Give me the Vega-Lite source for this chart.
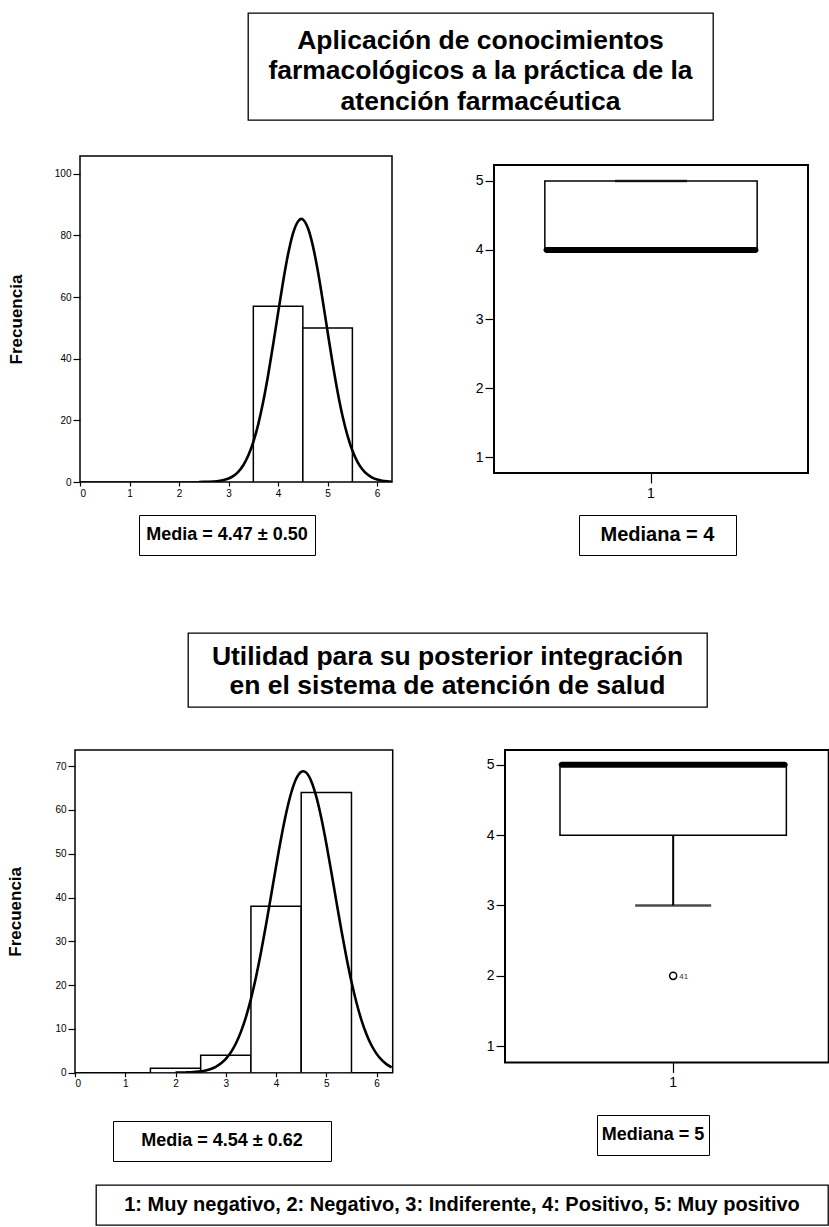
{
  "$schema": "https://vega.github.io/schema/vega-lite/v6.json",
  "padding": 0,
  "background": "white",
  "spacing": 0,
  "config": {
    "view": {"stroke": null},
    "font": "Liberation Sans",
    "concat": {"spacing": 0},
    "point": {"size": 0, "strokeWidth": 0, "opacity": 0},
    "axis": {"domain": false, "grid": false, "labelColor": "black", "tickColor": "black", "titleColor": "black", "labelFont": "Liberation Sans", "titleFont": "Liberation Sans", "tickWidth": 1.2}
  },
  "datasets": {
    "bins1": [
      {"x": -0.5, "x2v": 0.5, "y": 0}, {"x": 0.5, "x2v": 1.5, "y": 0}, {"x": 1.5, "x2v": 2.5, "y": 0},
      {"x": 3.5, "x2v": 4.5, "y": 57}, {"x": 4.5, "x2v": 5.5, "y": 50}
    ],
    "curve1": [
      {"x": 2.4, "y": 0.02}, {"x": 2.5, "y": 0.04}, {"x": 2.6, "y": 0.08}, {"x": 2.7, "y": 0.16}, {"x": 2.8, "y": 0.32},
      {"x": 2.9, "y": 0.62}, {"x": 3.0, "y": 1.14}, {"x": 3.1, "y": 2.0}, {"x": 3.2, "y": 3.39}, {"x": 3.3, "y": 5.52},
      {"x": 3.4, "y": 8.65}, {"x": 3.5, "y": 13.0}, {"x": 3.6, "y": 18.8}, {"x": 3.7, "y": 26.1}, {"x": 3.8, "y": 34.8},
      {"x": 3.9, "y": 44.6}, {"x": 4.0, "y": 54.9}, {"x": 4.1, "y": 64.9}, {"x": 4.2, "y": 73.8}, {"x": 4.3, "y": 80.6},
      {"x": 4.4, "y": 84.5}, {"x": 4.47, "y": 85.4}, {"x": 4.5, "y": 85.2}, {"x": 4.6, "y": 82.5}, {"x": 4.7, "y": 76.8},
      {"x": 4.8, "y": 68.7}, {"x": 4.9, "y": 59.0}, {"x": 5.0, "y": 48.7}, {"x": 5.1, "y": 38.6}, {"x": 5.2, "y": 29.4},
      {"x": 5.3, "y": 21.5}, {"x": 5.4, "y": 15.1}, {"x": 5.5, "y": 10.2}, {"x": 5.6, "y": 6.64}, {"x": 5.7, "y": 4.14},
      {"x": 5.8, "y": 2.48}, {"x": 5.9, "y": 1.43}, {"x": 6.0, "y": 0.79}, {"x": 6.1, "y": 0.42}, {"x": 6.2, "y": 0.21},
      {"x": 6.3, "y": 0.1}
    ],
    "bins2": [
      {"x": -0.5, "x2v": 0.5, "y": 0}, {"x": 0.5, "x2v": 1.5, "y": 0},
      {"x": 1.5, "x2v": 2.5, "y": 1}, {"x": 2.5, "x2v": 3.5, "y": 4}, {"x": 3.5, "x2v": 4.5, "y": 38}, {"x": 4.5, "x2v": 5.5, "y": 64}
    ],
    "curve2": [
      {"x": 2.0, "y": 0.02}, {"x": 2.1, "y": 0.03}, {"x": 2.2, "y": 0.06}, {"x": 2.3, "y": 0.1}, {"x": 2.4, "y": 0.18},
      {"x": 2.5, "y": 0.31}, {"x": 2.6, "y": 0.52}, {"x": 2.7, "y": 0.84}, {"x": 2.8, "y": 1.34}, {"x": 2.9, "y": 2.08},
      {"x": 3.0, "y": 3.15}, {"x": 3.1, "y": 4.64}, {"x": 3.2, "y": 6.66}, {"x": 3.3, "y": 9.32}, {"x": 3.4, "y": 12.7},
      {"x": 3.5, "y": 16.86}, {"x": 3.6, "y": 21.82}, {"x": 3.7, "y": 27.49}, {"x": 3.8, "y": 33.77}, {"x": 3.9, "y": 40.41},
      {"x": 4.0, "y": 47.12}, {"x": 4.1, "y": 53.53}, {"x": 4.2, "y": 59.24}, {"x": 4.3, "y": 63.88}, {"x": 4.4, "y": 67.12},
      {"x": 4.5, "y": 68.71}, {"x": 4.54, "y": 68.85}, {"x": 4.6, "y": 68.53}, {"x": 4.7, "y": 66.59}, {"x": 4.8, "y": 63.05},
      {"x": 4.9, "y": 58.16}, {"x": 5.0, "y": 52.28}, {"x": 5.1, "y": 45.79}, {"x": 5.2, "y": 39.07}, {"x": 5.3, "y": 32.48},
      {"x": 5.4, "y": 26.31}, {"x": 5.5, "y": 20.76}, {"x": 5.6, "y": 15.97}, {"x": 5.7, "y": 11.96}, {"x": 5.8, "y": 8.73},
      {"x": 5.9, "y": 6.21}, {"x": 6.0, "y": 4.3}, {"x": 6.1, "y": 2.91}, {"x": 6.2, "y": 1.91}, {"x": 6.3, "y": 1.23}
    ],
    "box1": [{"g": "1", "q1": 4, "q3": 5, "med": 4, "lo": 4, "hi": 5}],
    "box2": [{"g": "1", "q1": 4, "q3": 5, "med": 5, "lo": 3, "hi": 5}],
    "out2": [{"g": "1", "v": 2, "id": "41"}],
    "blank": [{}]
  },
  "vconcat": [
    {"width": 1, "height": 12, "data": {"name": "blank"}, "mark": {"type": "point"}, "encoding": {}},
    {
      "hconcat": [
        {"width": 247, "height": 107, "data": {"name": "blank"}, "mark": {"type": "point"}, "encoding": {}},
        {
          "width": 465, "height": 107,
          "view": {"stroke": "black", "strokeWidth": 1.3},
          "data": {"values": [{"t": "Aplicación de conocimientos\nfarmacológicos a la práctica de la\natención farmacéutica"}]},
          "mark": {"type": "text", "fontSize": 26.5, "fontWeight": "bold", "lineBreak": "\n", "lineHeight": 30.5, "align": "center", "baseline": "middle", "dy": -26, "color": "black"},
          "encoding": {"text": {"field": "t"}}
        }
      ]
    },
    {"width": 1, "height": 34, "data": {"name": "blank"}, "mark": {"type": "point"}, "encoding": {}},
    {
      "hconcat": [
        {"width": 6, "height": 1, "data": {"name": "blank"}, "mark": {"type": "point"}, "encoding": {}},
        {
          "width": 312, "height": 326,
          "view": {"stroke": "black", "strokeWidth": 1.5},
          "encoding": {
            "x": {"field": "x", "type": "quantitative", "title": null, "scale": {"domain": [0, 6.3], "nice": false, "zero": false},
                  "axis": {"values": [0, 1, 2, 3, 4, 5, 6], "labelFontSize": 10, "tickSize": 4, "labelPadding": 2}},
            "y": {"field": "y", "type": "quantitative", "title": "Frecuencia", "scale": {"domain": [0, 105.8], "nice": false},
                  "axis": {"values": [0, 20, 40, 60, 80, 100], "labelFontSize": 10, "tickSize": 7, "labelPadding": 2, "titleFontSize": 17, "titleFontWeight": "bold", "titlePadding": 29}}
          },
          "layer": [
            {"data": {"name": "bins1"}, "mark": {"type": "bar", "fill": "white", "stroke": "black", "strokeWidth": 1.5, "clip": true}, "encoding": {"x2": {"field": "x2v"}, "y2": {"datum": 0}}},
            {"data": {"name": "curve1"}, "mark": {"type": "line", "color": "black", "strokeWidth": 2.6, "interpolate": "monotone", "clip": true}}
          ]
        },
        {"width": 81, "height": 1, "data": {"name": "blank"}, "mark": {"type": "point"}, "encoding": {}},
        {
          "spacing": 0,
          "vconcat": [
            {"width": 1, "height": 8, "data": {"name": "blank"}, "mark": {"type": "point"}, "encoding": {}},
            {
              "width": 314, "height": 308,
              "view": {"stroke": "black", "strokeWidth": 2},
              "data": {"name": "box1"},
              "encoding": {
                "x": {"field": "g", "type": "nominal", "title": null, "scale": {"paddingInner": 0, "paddingOuter": 0.2395},
                      "axis": {"labelAngle": 0, "labelFontSize": 14, "tickSize": 10, "labelPadding": 3}}
              },
              "layer": [
                {"mark": {"type": "bar", "fill": "white", "stroke": "black", "strokeWidth": 1.5},
                 "encoding": {"y": {"field": "q1", "type": "quantitative", "title": null, "scale": {"domain": [0.77, 5.23], "nice": false, "zero": false},
                                     "axis": {"values": [1, 2, 3, 4, 5], "format": "d", "labelFontSize": 14, "tickSize": 9, "labelPadding": 2}},
                              "y2": {"field": "q3"}}},
                {"mark": {"type": "tick", "color": "black", "size": 72, "thickness": 2.5}, "encoding": {"y": {"field": "hi", "type": "quantitative"}}},
                {"mark": {"type": "tick", "color": "black", "size": 215, "thickness": 6, "cornerRadius": 3, "opacity": 1}, "encoding": {"y": {"field": "med", "type": "quantitative"}}}
              ]
            }
          ]
        }
      ]
    },
    {"width": 1, "height": 13, "data": {"name": "blank"}, "mark": {"type": "point"}, "encoding": {}},
    {
      "hconcat": [
        {"width": 138, "height": 1, "data": {"name": "blank"}, "mark": {"type": "point"}, "encoding": {}},
        {
          "width": 176, "height": 40, "view": {"stroke": "black", "strokeWidth": 1},
          "data": {"values": [{"t": "Media = 4.47 ± 0.50"}]},
          "mark": {"type": "text", "fontSize": 18, "fontWeight": "bold", "align": "center", "baseline": "middle", "color": "black"},
          "encoding": {"text": {"field": "t"}}
        },
        {"width": 262, "height": 1, "data": {"name": "blank"}, "mark": {"type": "point"}, "encoding": {}},
        {
          "width": 157, "height": 40, "view": {"stroke": "black", "strokeWidth": 1},
          "data": {"values": [{"t": "Mediana = 4"}]},
          "mark": {"type": "text", "fontSize": 20, "fontWeight": "bold", "align": "center", "baseline": "middle", "color": "black"},
          "encoding": {"text": {"field": "t"}}
        }
      ]
    },
    {"width": 1, "height": 76, "data": {"name": "blank"}, "mark": {"type": "point"}, "encoding": {}},
    {
      "hconcat": [
        {"width": 187, "height": 1, "data": {"name": "blank"}, "mark": {"type": "point"}, "encoding": {}},
        {
          "width": 519, "height": 74,
          "view": {"stroke": "black", "strokeWidth": 1.3},
          "data": {"values": [{"t": "Utilidad para su posterior integración\nen el sistema de atención de salud"}]},
          "mark": {"type": "text", "fontSize": 26.5, "fontWeight": "bold", "lineBreak": "\n", "lineHeight": 28.5, "align": "center", "baseline": "middle", "dy": -13, "color": "black"},
          "encoding": {"text": {"field": "t"}}
        }
      ]
    },
    {"width": 1, "height": 41, "data": {"name": "blank"}, "mark": {"type": "point"}, "encoding": {}},
    {
      "hconcat": [
        {"width": 6, "height": 1, "data": {"name": "blank"}, "mark": {"type": "point"}, "encoding": {}},
        {
          "width": 317.7, "height": 322.7,
          "view": {"stroke": "black", "strokeWidth": 1.5},
          "encoding": {
            "x": {"field": "x", "type": "quantitative", "title": null, "scale": {"domain": [0, 6.32], "nice": false, "zero": false},
                  "axis": {"values": [0, 1, 2, 3, 4, 5, 6], "labelFontSize": 10, "tickSize": 4, "labelPadding": 2}},
            "y": {"field": "y", "type": "quantitative", "title": "Frecuencia", "scale": {"domain": [0, 73.7], "nice": false},
                  "axis": {"values": [0, 10, 20, 30, 40, 50, 60, 70], "labelFontSize": 10, "tickSize": 7, "labelPadding": 2, "titleFontSize": 17, "titleFontWeight": "bold", "titlePadding": 30}}
          },
          "layer": [
            {"data": {"name": "bins2"}, "mark": {"type": "bar", "fill": "white", "stroke": "black", "strokeWidth": 1.5, "clip": true}, "encoding": {"x2": {"field": "x2v"}, "y2": {"datum": 0}}},
            {"data": {"name": "curve2"}, "mark": {"type": "line", "color": "black", "strokeWidth": 2.6, "interpolate": "monotone", "clip": true}}
          ]
        },
        {"width": 91, "height": 1, "data": {"name": "blank"}, "mark": {"type": "point"}, "encoding": {}},
        {
          "width": 323.7, "height": 312.4,
          "view": {"stroke": "black", "strokeWidth": 2},
          "encoding": {
            "x": {"field": "g", "type": "nominal", "title": null, "scale": {"paddingInner": 0, "paddingOuter": 0.215, "align": 0.565},
                  "axis": {"labelAngle": 0, "labelFontSize": 14, "tickSize": 10, "labelPadding": 3}}
          },
          "layer": [
            {"data": {"name": "box2"}, "mark": {"type": "rule", "color": "black", "strokeWidth": 2},
             "encoding": {"y": {"field": "lo", "type": "quantitative", "title": null, "scale": {"domain": [0.77, 5.21], "nice": false, "zero": false},
                                 "axis": {"values": [1, 2, 3, 4, 5], "format": "d", "labelFontSize": 14, "tickSize": 9, "labelPadding": 2}},
                          "y2": {"field": "q1"}}},
            {"data": {"name": "box2"}, "mark": {"type": "tick", "color": "black", "size": 76, "thickness": 2.5}, "encoding": {"y": {"field": "lo", "type": "quantitative"}}},
            {"data": {"name": "box2"}, "mark": {"type": "bar", "fill": "white", "stroke": "black", "strokeWidth": 1.5},
             "encoding": {"y": {"field": "q1", "type": "quantitative"}, "y2": {"field": "q3"}}},
            {"data": {"name": "box2"}, "mark": {"type": "tick", "color": "black", "size": 229, "thickness": 6, "cornerRadius": 3, "opacity": 1}, "encoding": {"y": {"field": "med", "type": "quantitative"}}},
            {"data": {"name": "out2"}, "mark": {"type": "point", "shape": "circle", "filled": false, "color": "black", "size": 50, "strokeWidth": 1.5, "opacity": 1},
             "encoding": {"y": {"field": "v", "type": "quantitative"}}},
            {"data": {"name": "out2"}, "mark": {"type": "text", "fontSize": 8, "align": "left", "baseline": "middle", "dx": 6, "dy": 1, "color": "#333"},
             "encoding": {"y": {"field": "v", "type": "quantitative"}, "text": {"field": "id"}}}
          ]
        }
      ]
    },
    {"width": 1, "height": 23, "data": {"name": "blank"}, "mark": {"type": "point"}, "encoding": {}},
    {
      "hconcat": [
        {"width": 112, "height": 1, "data": {"name": "blank"}, "mark": {"type": "point"}, "encoding": {}},
        {
          "spacing": 0,
          "vconcat": [
            {"width": 1, "height": 5, "data": {"name": "blank"}, "mark": {"type": "point"}, "encoding": {}},
            {
              "width": 218, "height": 40, "view": {"stroke": "black", "strokeWidth": 1},
              "data": {"values": [{"t": "Media = 4.54 ± 0.62"}]},
              "mark": {"type": "text", "fontSize": 18, "fontWeight": "bold", "align": "center", "baseline": "middle", "color": "black"},
              "encoding": {"text": {"field": "t"}}
            }
          ]
        },
        {"width": 264, "height": 1, "data": {"name": "blank"}, "mark": {"type": "point"}, "encoding": {}},
        {
          "width": 112, "height": 40, "view": {"stroke": "black", "strokeWidth": 1},
          "data": {"values": [{"t": "Mediana = 5"}]},
          "mark": {"type": "text", "fontSize": 18, "fontWeight": "bold", "align": "center", "baseline": "middle", "color": "black"},
          "encoding": {"text": {"field": "t"}}
        }
      ]
    },
    {"width": 1, "height": 22, "data": {"name": "blank"}, "mark": {"type": "point"}, "encoding": {}},
    {
      "hconcat": [
        {"width": 95, "height": 1, "data": {"name": "blank"}, "mark": {"type": "point"}, "encoding": {}},
        {
          "width": 732, "height": 40, "view": {"stroke": "black", "strokeWidth": 1.3},
          "data": {"values": [{"t": "1: Muy negativo, 2: Negativo, 3: Indiferente, 4: Positivo, 5: Muy positivo"}]},
          "mark": {"type": "text", "fontSize": 20, "fontWeight": "bold", "align": "center", "baseline": "middle", "color": "black"},
          "encoding": {"text": {"field": "t"}}
        }
      ]
    }
  ]
}
